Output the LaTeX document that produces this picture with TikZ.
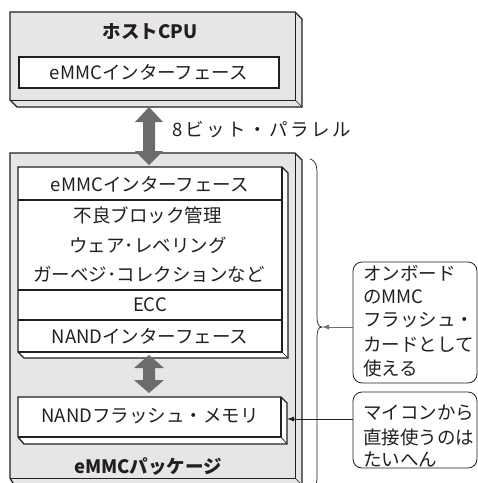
\documentclass[tikz,border=0pt]{standalone}
\usepackage{fontspec}
\setmainfont{Noto Sans CJK JP}
\usetikzlibrary{arrows.meta}
\definecolor{boxgray}{RGB}{230,230,230}
\definecolor{arrgray}{RGB}{108,108,110}
\definecolor{ink}{RGB}{35,31,32}
\definecolor{linegray}{RGB}{110,110,110}
\tikzset{
  outerbox/.style={draw=ink, fill=boxgray, line width=1.3pt, line join=miter},
  whitebox/.style={draw=ink, fill=white, line width=1.3pt, line join=miter},
  thinedge/.style={draw=ink, line width=0.7pt},
  rowsep/.style={draw=ink, line width=1.3pt},
  lbl/.style={inner sep=0pt, text=ink, font=\fontsize{18.5}{22}\selectfont},
  boldlbl/.style={inner sep=0pt, text=ink, font=\fontsize{18.5}{22}\selectfont\bfseries},
  callout/.style={draw=ink, line width=0.8pt, rounded corners=9pt, fill=white},
  calltext/.style={inner sep=0pt, anchor=west, text=ink, font=\fontsize{18.5}{22}\selectfont},
  dblarrow/.style={fill=arrgray, draw=none},
}
\begin{document}
\begin{tikzpicture}[x=1pt, y=-1pt]
\useasboundingbox (0,0) rectangle (478,483);
\clip (0,0) rectangle (478,483);

% ---------- Host CPU ----------
\draw[outerbox] (10,12) -- (295,12) -- (302,19) -- (302,107) -- (17,107) -- (10,100) -- cycle;
\draw[thinedge] (10,100) -- (295,100) -- (295,12);
\draw[thinedge] (295,100) -- (302,107);
\node[boldlbl] (host) at (150,32) {ホストCPU};
\draw[whitebox] (19,57) rectangle (279,88);
\node[lbl] (hostif) at (149,72.5) {eMMCインターフェース};

% ---------- eMMC package ----------
\draw[outerbox] (10,153) -- (295,153) -- (302,160) -- (302,490) -- (17,490) -- (10,478) -- cycle;
\draw[thinedge] (10,478) -- (295,478) -- (295,153);
\draw[thinedge] (295,478) -- (302,485);

% controller block
\draw[whitebox] (18,167) -- (282,167) -- (288,173) -- (288,358) -- (24,358) -- (18,352) -- cycle;
\draw[thinedge] (18,352) -- (282,352) -- (282,167);
\draw[thinedge] (282,352) -- (288,358);
\draw[rowsep] (18,200) -- (282,200);
\draw[rowsep] (18,290) -- (282,290);
\draw[rowsep] (18,320) -- (282,320);
\draw[line width=1.3pt, draw=ink] (18,352) -- (282,352) -- (282,167);
\node[lbl] (emmcif) at (150,184) {eMMCインターフェース};
\node[lbl] (bad) at (148,215) {不良ブロック管理};
\node[lbl] (wear) at (148,245) {ウェア･レベリング};
\node[lbl] (gc) at (149,274) {ガーベジ･コレクションなど};
\node[lbl] (ecc) at (150,305) {ECC};
\node[lbl] (nandif) at (150,336) {NANDインターフェース};

% NAND flash block
\draw[whitebox] (18,397) -- (281,397) -- (287,403) -- (287,444) -- (24,444) -- (18,437) -- cycle;
\draw[thinedge] (18,437) -- (281,437) -- (281,397);
\draw[thinedge] (281,437) -- (287,444);
\draw[line width=1.3pt, draw=ink] (18,437) -- (281,437) -- (281,397);
\node[lbl] (nand) at (150,416) {NANDフラッシュ・メモリ};
\coordinate (nandR) at (287,419);

\node[boldlbl] (pkg) at (148,467) {eMMCパッケージ};

% ---------- double arrows ----------
\fill[dblarrow] (149,107) -- (163,122) -- (155,122) -- (155,151) -- (163,151) -- (149,165)
  -- (135,151) -- (143,151) -- (143,122) -- (135,122) -- cycle;
\node[lbl, anchor=west, font=\fontsize{18.5}{22}\selectfont\addfontfeatures{LetterSpace=14}] (bus) at (172,130) {8ビット・パラレル};

\fill[dblarrow] (149,355) -- (164,368) -- (155,368) -- (155,380) -- (164,380) -- (149,393)
  -- (134,380) -- (143,380) -- (143,368) -- (134,368) -- cycle;

% ---------- brace ----------
\draw[draw=ink, line width=0.7pt]
  (310,159) .. controls (315,160) and (317,165) .. (317,174)
  -- (317,315) .. controls (317,323) and (318,327) .. (322,327)
  .. controls (318,327) and (317,331) .. (317,339)
  -- (317,476) .. controls (317,485) and (315,490) .. (310,491);
\coordinate (braceTip) at (322,327);

% ---------- callouts ----------
\draw[callout] (353,262) rectangle (477,383);
\node[calltext] (c1a) at (363,273) {オンボード};
\node[calltext] (c1b) at (363,297) {のMMC};
\node[calltext] (c1c) at (363,320) {フラッシュ・};
\node[calltext] (c1d) at (363,345) {カードとして};
\node[calltext] (c1e) at (363,368) {使える};
\coordinate (c1L) at (353,327);

\draw[callout] (353,392) rectangle (477,468);
\node[calltext] (c2a) at (363,413) {マイコンから};
\node[calltext] (c2b) at (363,437) {直接使うのは};
\node[calltext] (c2c) at (363,459) {たいへん};
\coordinate (c2L) at (353,419);

\draw[draw=linegray, line width=0.9pt, -{Latex[length=7pt,width=5pt]}] (c1L) -- (braceTip);
\draw[draw=ink, line width=0.8pt, -{Latex[length=7pt,width=5pt]}] (c2L) -- (nandR);
\end{tikzpicture}
\end{document}
